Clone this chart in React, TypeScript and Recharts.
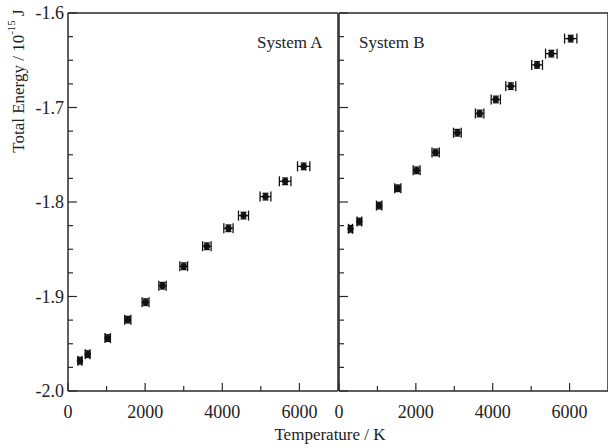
import React from "react";
import { ScatterChart, Scatter, XAxis, YAxis, ErrorBar } from "recharts";

const tempA = [310, 510, 1030, 1550, 2010, 2450, 3000, 3600, 4160, 4550, 5120, 5630, 6110];
const energyA = [-1.968, -1.961, -1.944, -1.9245, -1.906, -1.8886, -1.868, -1.8468, -1.8278, -1.8144, -1.7943, -1.7781, -1.7623];
const errTA = [50, 60, 70, 80, 90, 95, 100, 110, 120, 130, 140, 150, 160];

const tempB = [300, 530, 1045, 1530, 2020, 2515, 3080, 3660, 4080, 4470, 5155, 5525, 6030];
const energyB = [-1.8284, -1.8207, -1.8038, -1.7855, -1.7665, -1.7475, -1.7267, -1.7063, -1.6915, -1.6774, -1.6549, -1.643, -1.6271];
const errTB = [50, 60, 70, 80, 90, 95, 100, 110, 120, 130, 140, 150, 160];

const errE = 0.0035;

const xTicks = [0, 1000, 2000, 3000, 4000, 5000, 6000];
const yTicks = [-2.0, -1.975, -1.95, -1.925, -1.9, -1.875, -1.85, -1.825, -1.8, -1.775, -1.75, -1.725, -1.7, -1.675, -1.65, -1.625, -1.6];

const FONT = "Liberation Serif";
const AX = "#2a2a2a";

const buildData = (t: number[], e: number[], et: number[]) =>
  t.map((v, i) => ({ t: v, e: e[i], et: et[i], ee: errE }));

const dataA = buildData(tempA, energyA, errTA);
const dataB = buildData(tempB, energyB, errTB);

const isMajorX = (v: number) => v % 2000 === 0;
const isMajorY = (v: number) => Math.abs(v * 10 - Math.round(v * 10)) < 1e-6;

const BottomTick = (props: any) => {
  const { x, y, payload } = props;
  const v = payload.value;
  const major = isMajorX(v);
  return (
    <g>
      <path d={`M${x},${y}V${y - (major ? 8 : 5)}`} stroke={AX} strokeWidth={1.2} fill="none" />
      {major && (
        <text x={x} y={y + 21} textAnchor="middle" dominantBaseline="central" fontFamily={FONT} fontSize={18} fill="#222">
          {v}
        </text>
      )}
    </g>
  );
};

const TopTick = (props: any) => {
  const { x, y, payload } = props;
  const major = isMajorX(payload.value);
  return <path d={`M${x},${y}V${y + (major ? 8 : 5)}`} stroke={AX} strokeWidth={1.2} fill="none" />;
};

const makeLeftTick = (showLabel: boolean) => (props: any) => {
  const { x, y, payload } = props;
  const v = payload.value;
  const major = isMajorY(v);
  return (
    <g>
      <path d={`M${x},${y}H${x + (major ? 9 : 5)}`} stroke={AX} strokeWidth={1.2} fill="none" />
      {showLabel && major && (
        <text x={x - 4} y={y} textAnchor="end" dominantBaseline="central" fontFamily={FONT} fontSize={18} fill="#222">
          {v.toFixed(1)}
        </text>
      )}
    </g>
  );
};

const RightTick = (props: any) => {
  const { x, y, payload } = props;
  const major = isMajorY(payload.value);
  return <path d={`M${x},${y}H${x - (major ? 9 : 5)}`} stroke={AX} strokeWidth={1.2} fill="none" />;
};

const Dot = (props: any) => {
  const { cx, cy } = props;
  return <circle cx={cx} cy={cy} r={3.2} fill="#111" />;
};

const Panel = ({ data, width, marginLeft, marginRight, yWidth, showYLabels, title, titleX }: any) => (
  <ScatterChart width={width} height={448} margin={{ top: 12, right: marginRight, bottom: 0, left: marginLeft }}>
    <XAxis
      xAxisId="b"
      type="number"
      dataKey="t"
      domain={[0, 7000]}
      ticks={xTicks}
      interval={0}
      orientation="bottom"
      height={57}
      tickSize={0}
      tickMargin={0}
      tick={<BottomTick />}
      stroke={AX}
      strokeWidth={1.5}
      tickLine={false}
    />
    <XAxis
      xAxisId="t"
      type="number"
      dataKey="t"
      domain={[0, 7000]}
      ticks={xTicks}
      interval={0}
      orientation="top"
      height={1}
      tickSize={0}
      tickMargin={0}
      tick={<TopTick />}
      stroke={AX}
      strokeWidth={1.5}
      tickLine={false}
    />
    <YAxis
      yAxisId="l"
      type="number"
      dataKey="e"
      domain={[-2.0, -1.6]}
      ticks={yTicks}
      interval={0}
      orientation="left"
      width={yWidth}
      tickSize={0}
      tickMargin={0}
      tick={makeLeftTick(showYLabels)}
      stroke={AX}
      strokeWidth={1.5}
      tickLine={false}
    />
    <YAxis
      yAxisId="r"
      type="number"
      dataKey="e"
      domain={[-2.0, -1.6]}
      ticks={yTicks}
      interval={0}
      orientation="right"
      width={1}
      tickSize={0}
      tickMargin={0}
      tick={<RightTick />}
      stroke={AX}
      strokeWidth={1.5}
      tickLine={false}
    />
    <Scatter data={data} xAxisId="b" yAxisId="l" shape={<Dot />} isAnimationActive={false}>
      <ErrorBar dataKey="et" direction="x" width={5} stroke="#111" strokeWidth={1.3} isAnimationActive={false} />
      <ErrorBar dataKey="ee" direction="y" width={3} stroke="#111" strokeWidth={1.3} isAnimationActive={false} />
    </Scatter>
    <text x={titleX} y={42} dominantBaseline="central" fontFamily={FONT} fontSize={17} fill="#222">
      {title}
    </text>
  </ScatterChart>
);

export default function App() {
  return (
    <div style={{ position: "absolute", left: 0, top: 0, width: 608, height: 448, background: "#fff", overflow: "hidden" }}>
      <div style={{ position: "absolute", left: 0, top: 0 }}>
        <Panel data={dataA} width={341} marginLeft={0} marginRight={2} yWidth={68} showYLabels={true} title="System A" titleX={257} />
      </div>
      <div style={{ position: "absolute", left: 318, top: 0 }}>
        <Panel data={dataB} width={291} marginLeft={20} marginRight={0} yWidth={1} showYLabels={false} title="System B" titleX={41} />
      </div>
      <svg width={608} height={448} style={{ position: "absolute", left: 0, top: 0, pointerEvents: "none" }}>
        <text x={330} y={434} textAnchor="middle" dominantBaseline="central" fontFamily={FONT} fontSize={17} fill="#222">
          Temperature / K
        </text>
        <text
          x={18}
          y={81}
          transform="rotate(-90 18 81)"
          textAnchor="middle"
          dominantBaseline="central"
          fontFamily={FONT}
          fontSize={17}
          fill="#222"
        >
          Total Energy / 10
          <tspan dy={-7} fontSize={11}>-15</tspan>
          <tspan dy={7}> J</tspan>
        </text>
      </svg>
    </div>
  );
}
